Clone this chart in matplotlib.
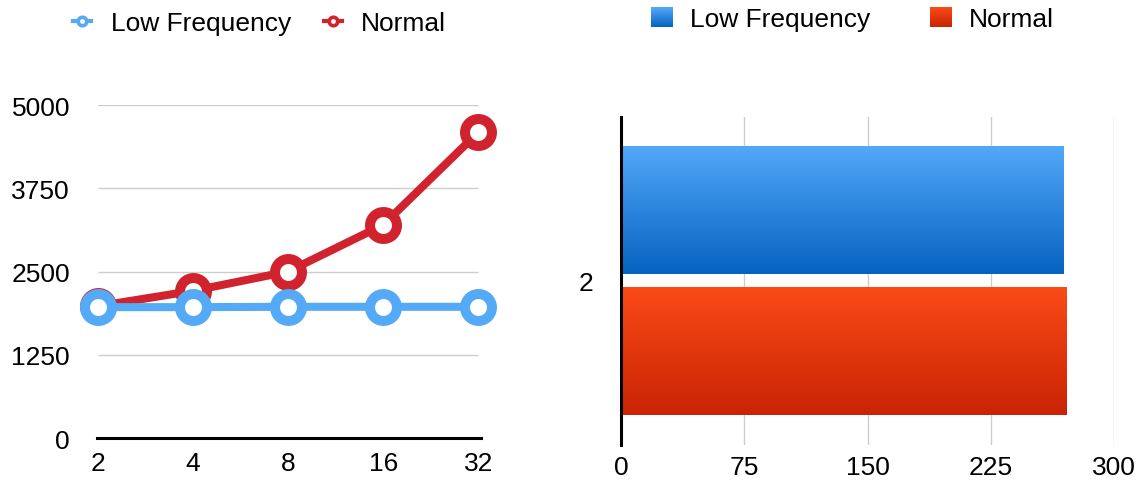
import numpy as np
import matplotlib
matplotlib.use("Agg")
import matplotlib.pyplot as plt
from matplotlib.colors import LinearSegmentedColormap
from matplotlib.lines import Line2D
from matplotlib.patches import Rectangle
from matplotlib.legend_handler import HandlerBase

plt.rcParams['font.family'] = ['Liberation Sans', 'DejaVu Sans']

# ---- data ----
line_categories = ['2', '4', '8', '16', '32']
low_frequency = [1965, 1965, 1970, 1970, 1970]
normal = [1980, 2210, 2500, 3200, 4590]
line_yticks = [0, 1250, 2500, 3750, 5000]

bar_categories = ['2']
bar_low_frequency = [269]
bar_normal = [271]
bar_xticks = [0, 75, 150, 225, 300]

series_names = ['Low Frequency', 'Normal']

# ---- styles ----
LINE_BLUE = '#55AAF8'
LINE_RED = '#D0232E'
BLUE_GRAD = ('#0563C1', '#53A8F8')   # bottom, top
RED_GRAD = ('#C92405', '#FA4A16')
GRID = '#CDCDCD'
FS = 19

fig = plt.figure(figsize=(11.43, 4.81), dpi=100)

# ---------------- line chart ----------------
ax1 = fig.add_axes([0.0849, 0.0873, 0.3360, 0.6923])
x = np.arange(len(line_categories))
ax1.hlines(line_yticks[1:], x[0], x[-1], color=GRID, lw=1.0, zorder=0)
marker_kw = dict(marker='o', ms=19.4, mew=7.2, mfc='white', lw=5.8,
                 clip_on=False, solid_joinstyle='round')
ax1.plot(x, normal, color=LINE_RED, mec=LINE_RED, zorder=3, **marker_kw)
ax1.plot(x, low_frequency, color=LINE_BLUE, mec=LINE_BLUE, zorder=4, **marker_kw)
ax1.set_xlim(-0.01, 4.03)
ax1.set_ylim(0, 5000)
ax1.set_yticks(line_yticks)
ax1.set_yticklabels([str(v) for v in line_yticks])
ax1.set_xticks(x)
ax1.set_xticklabels(line_categories)
for s in ['top', 'right', 'left']:
    ax1.spines[s].set_visible(False)
ax1.spines['bottom'].set_linewidth(2.2)
ax1.tick_params(axis='y', length=0, pad=19.5, labelsize=FS)
ax1.tick_params(axis='x', length=0, pad=9, labelsize=FS)

leg_kw = dict(marker='o', ms=6.1, mew=2.6, mfc='white', lw=3.0)
leg_handles1 = [
    Line2D([], [], color=LINE_BLUE, mec=LINE_BLUE, **leg_kw),
    Line2D([], [], color=LINE_RED, mec=LINE_RED, **leg_kw),
]
fig.legend(leg_handles1, series_names, loc='center left',
           bbox_to_anchor=(0.0643, 0.950), ncol=2, frameon=False,
           fontsize=FS, borderpad=0, borderaxespad=0, handlelength=0.68,
           handletextpad=0.73, columnspacing=1.25)

# ---------------- bar chart ----------------
ax2 = fig.add_axes([0.5433, 0.0728, 0.4316, 0.6819])
bar_h = 0.39
gap = 0.02
grad = np.linspace(0, 1, 256).reshape(-1, 1)
cmap_blue = LinearSegmentedColormap.from_list('blue_grad', BLUE_GRAD)
cmap_red = LinearSegmentedColormap.from_list('red_grad', RED_GRAD)
yc = np.arange(len(bar_categories)) + 0.5
for i, c in enumerate(yc):
    ax2.imshow(grad, extent=(0, bar_low_frequency[i], c + gap, c + gap + bar_h),
               cmap=cmap_blue, aspect='auto', origin='lower', zorder=2)
    ax2.imshow(grad, extent=(0, bar_normal[i], c - gap - bar_h, c - gap),
               cmap=cmap_red, aspect='auto', origin='lower', zorder=2)
ax2.set_xlim(0, 300)
ax2.set_ylim(0, len(bar_categories))
ax2.set_xticks(bar_xticks)
ax2.set_xticklabels([str(v) for v in bar_xticks])
ax2.set_yticks(yc)
ax2.set_yticklabels(bar_categories)
ax2.xaxis.grid(True, color=GRID, lw=1.0, zorder=0)
ax2.set_axisbelow(True)
for s in ['top', 'right', 'bottom']:
    ax2.spines[s].set_visible(False)
ax2.spines['left'].set_linewidth(2.2)
ax2.spines['left'].set_zorder(5)
ax2.tick_params(axis='x', length=0, pad=7.5, labelsize=FS)
ax2.tick_params(axis='y', length=0, pad=20, labelsize=FS)


class GradientHandler(HandlerBase):
    def __init__(self, bottom, top, steps=20):
        super().__init__()
        self.cmap = LinearSegmentedColormap.from_list('h', (bottom, top))
        self.steps = steps

    def create_artists(self, legend, orig_handle, xdescent, ydescent,
                       width, height, fontsize, trans):
        arts = []
        h = height / self.steps
        for k in range(self.steps):
            arts.append(Rectangle((-xdescent, -ydescent + k * h), width, h * 1.05,
                                  facecolor=self.cmap(k / (self.steps - 1)),
                                  edgecolor='none', transform=trans))
        return arts


h_blue = Rectangle((0, 0), 1, 1)
h_red = Rectangle((0, 0), 1, 1)
fig.legend([h_blue, h_red], series_names, loc='center left',
           bbox_to_anchor=(0.5696, 0.958), ncol=2, frameon=False,
           fontsize=FS, borderpad=0, borderaxespad=0, handlelength=0.83,
           handleheight=0.8, handletextpad=0.64, columnspacing=2.27,
           handler_map={h_blue: GradientHandler(*BLUE_GRAD),
                        h_red: GradientHandler(*RED_GRAD)})

fig.savefig('out.png', dpi=100)
